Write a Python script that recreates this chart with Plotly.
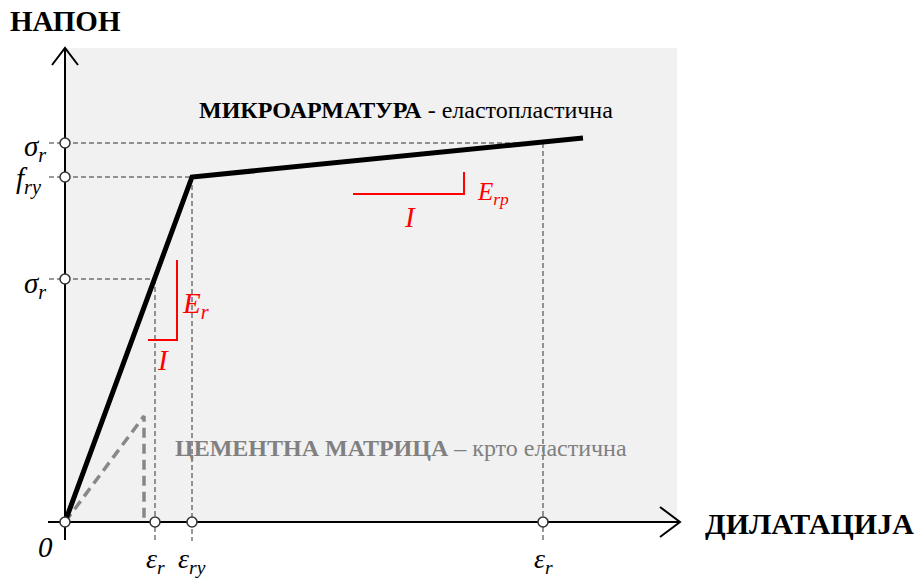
import plotly.graph_objects as go

# ---- data (strain / stress in arbitrary units) ----
fibre_eps = [0.0, 1.27, 5.18]          # origin, yield, end of plastic branch
fibre_sig = [0.0, 3.45, 3.84]
matrix_eps = [0.0, 0.79, 0.79]         # brittle matrix: linear then sudden drop
matrix_sig = [0.0, 1.06, 0.0]

eps_r_el, sig_r_el = 0.90, 2.43        # point on elastic branch
eps_ry, f_ry = 1.27, 3.45              # yield point
eps_r_pl, sig_r_pl = 4.78, 3.79        # point on plastic branch

# slope triangles (drawn as guides)
slope_el_x = [0.83, 1.12, 1.12]
slope_el_y = [1.82, 1.82, 2.62]
slope_pl_x = [2.88, 3.99, 3.99]
slope_pl_y = [3.28, 3.28, 3.50]

# drawing extents
X_MIN, X_MAX = -0.65, 8.49
Y_MIN, Y_MAX = -0.56, 5.22
BG_X1, BG_Y1 = 6.12, 4.74
AX_X_END, AX_Y_END = 6.15, 4.74
AX_X_START, AX_Y_START = -0.17, -0.18
GUIDE_LEFT, GUIDE_BOTTOM = -0.16, -0.19

SERIF = "Liberation Serif"
DASH = "5px,3px"

fig = go.Figure()

# light background panel
fig.add_shape(type="rect", x0=0, y0=0, x1=BG_X1, y1=BG_Y1, xref="x", yref="y",
              fillcolor="#f1f1f1", line_width=0, layer="below")


def line(x, y, color="black", width=1, dash=None):
    fig.add_trace(go.Scatter(x=x, y=y, mode="lines", hoverinfo="skip",
                             line=dict(color=color, width=width, dash=dash)))


# dashed guide lines
for ex, sy in [(eps_r_el, sig_r_el), (eps_ry, f_ry), (eps_r_pl, sig_r_pl)]:
    line([GUIDE_LEFT, ex], [sy, sy], "#333333", 1, DASH)
    line([ex, ex], [sy, GUIDE_BOTTOM], "#333333", 1, DASH)

# axes with open arrow heads
line([0, 0], [AX_Y_START, AX_Y_END], "black", 2)
line([AX_X_START, AX_X_END], [0, 0], "black", 2)
line([-0.13, 0, 0.13], [AX_Y_END - 0.17, AX_Y_END, AX_Y_END - 0.17], "black", 2)
line([AX_X_END - 0.2, AX_X_END, AX_X_END - 0.2], [0.15, 0, -0.15], "black", 2)

# cement matrix curve
line(matrix_eps, matrix_sig, "#888888", 3.5, "10px,6px")

# micro-reinforcement curve
line(fibre_eps, fibre_sig, "black", 5)

# slope markers
line(slope_el_x, slope_el_y, "red", 2)
line(slope_pl_x, slope_pl_y, "red", 2)

# characteristic points on the axes
pts_x = [0, 0, 0, 0, eps_r_el, eps_ry, eps_r_pl]
pts_y = [sig_r_pl, f_ry, sig_r_el, 0, 0, 0, 0]
fig.add_trace(go.Scatter(x=pts_x, y=pts_y, mode="markers", hoverinfo="skip",
                         marker=dict(size=10, color="white",
                                     line=dict(color="#333333", width=1.5))))


def text(x, y, s, size, color="black", xanchor="center", yanchor="middle"):
    fig.add_annotation(x=x, y=y, text=s, showarrow=False, xanchor=xanchor,
                       yanchor=yanchor, font=dict(family=SERIF, size=size, color=color))


text(-0.57, 5.01, "<b>НАПОН</b>", 29, xanchor="left")
text(6.38, -0.01, "<b>ДИЛАТАЦИЈА</b>", 30, xanchor="left")
text(1.32, 4.12, "<b>МИКРОАРМАТУРА</b> - еластопластична", 24, xanchor="left")
text(1.08, 0.74, "<b>ЦЕМЕНТНА МАТРИЦА</b> – крто еластична", 24,
     color="#808080", xanchor="left")

text(-0.17, sig_r_pl - 0.05, "<i>σ<sub>r</sub></i>", 29, xanchor="right")
text(-0.21, f_ry - 0.03, "<i>f<sub>ry</sub></i>", 29, xanchor="right")
text(-0.17, sig_r_el - 0.06, "<i>σ<sub>r</sub></i>", 29, xanchor="right")
text(-0.20, -0.25, "<i>0</i>", 29)
text(eps_r_el, -0.38, "<i>ε<sub>r</sub></i>", 28)
text(eps_ry, -0.38, "<i>ε<sub>ry</sub></i>", 28)
text(eps_r_pl, -0.38, "<i>ε<sub>r</sub></i>", 28)

text(1.15, 2.17, "<i>E<sub>r</sub></i>", 29, color="red", xanchor="left")
text(0.98, 1.62, "<i>I</i>", 29, color="red")
text(4.10, 3.29, "<i>E<sub>rp</sub></i>", 25, color="red", xanchor="left")
text(3.45, 3.05, "<i>I</i>", 29, color="red")

fig.update_layout(
    width=914, height=578, margin=dict(l=0, r=0, t=0, b=0),
    paper_bgcolor="white", plot_bgcolor="white", showlegend=False,
    xaxis=dict(range=[X_MIN, X_MAX], visible=False, fixedrange=True),
    yaxis=dict(range=[Y_MIN, Y_MAX], visible=False, fixedrange=True),
)

fig.write_html("out.html", config={"displayModeBar": False})
